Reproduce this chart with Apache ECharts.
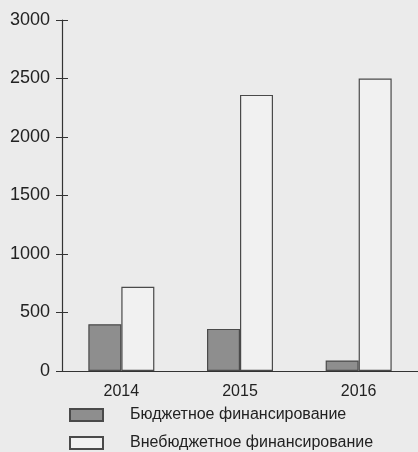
<!DOCTYPE html>
<html style="height: 100%">
<head>
<meta charset="utf-8">
<title>Финансирование</title>
<script src="https://cdn.jsdelivr.net/npm/echarts@6/dist/echarts.min.js"></script>
</head>
<body style="height: 100%; margin: 0; background: #ebebeb">
<div id="container" style="width: 418px; height: 452px"></div>
<script type="text/javascript">
    // данные с графика
    var years = ['2014', '2015', '2016'];
    var budget = [400, 360, 90];
    var extraBudget = [720, 2360, 2500];
    var yTicks = [0, 500, 1000, 1500, 2000, 2500, 3000];
    var names = ['Бюджетное финансирование', 'Внебюджетное финансирование'];

    var font = 'Liberation Sans, Arial, sans-serif';
    var myChart = echarts.init(document.getElementById('container'));

    function legendItem(name, top) {
        return {
            left: 64,
            top: top,
            itemWidth: 33,
            itemHeight: 12,
            icon: 'rect',
            textStyle: { fontFamily: font, fontSize: 16, color: '#222', padding: [0, 0, 0, 22] },
            data: [name]
        };
    }

    var option = {
        backgroundColor: '#ebebeb',
        animation: false,
        grid: { left: 62, right: 0, top: 20, bottom: 81 },
        legend: [legendItem(names[0], 402), legendItem(names[1], 430)],
        xAxis: {
            type: 'category',
            data: years,
            axisLine: { lineStyle: { color: '#333', width: 1.2 } },
            axisTick: { inside: true, length: 5, lineStyle: { color: '#333' } },
            axisLabel: { fontFamily: font, fontSize: 16, color: '#222', margin: 13 }
        },
        yAxis: [{
            type: 'value',
            min: yTicks[0],
            max: yTicks[yTicks.length - 1],
            interval: 500,
            splitLine: { show: false },
            axisLine: { show: true, lineStyle: { color: '#333', width: 1.2 } },
            axisTick: { show: true, length: 6, lineStyle: { color: '#333' } },
            axisLabel: {
                fontFamily: font, fontSize: 18, color: '#222', margin: 12,
                formatter: function (v) { return String(v); }
            }
        }, {
            type: 'value',
            position: 'left',
            min: yTicks[0],
            max: yTicks[yTicks.length - 1],
            interval: 500,
            splitLine: { show: false },
            axisLine: { show: false },
            axisTick: { show: true, inside: true, length: 6, lineStyle: { color: '#333' } },
            axisLabel: { show: false }
        }],
        series: [{
            name: names[0],
            type: 'bar',
            data: budget,
            barWidth: 33,
            barGap: '0%',
            itemStyle: { color: '#8e8e8e', borderColor: '#4a4a4a', borderWidth: 1.2 }
        }, {
            name: names[1],
            type: 'bar',
            data: extraBudget,
            barWidth: 33,
            itemStyle: { color: '#f1f1f1', borderColor: '#4a4a4a', borderWidth: 1.2 }
        }]
    };

    myChart.setOption(option, true);
</script>
</body>
</html>
